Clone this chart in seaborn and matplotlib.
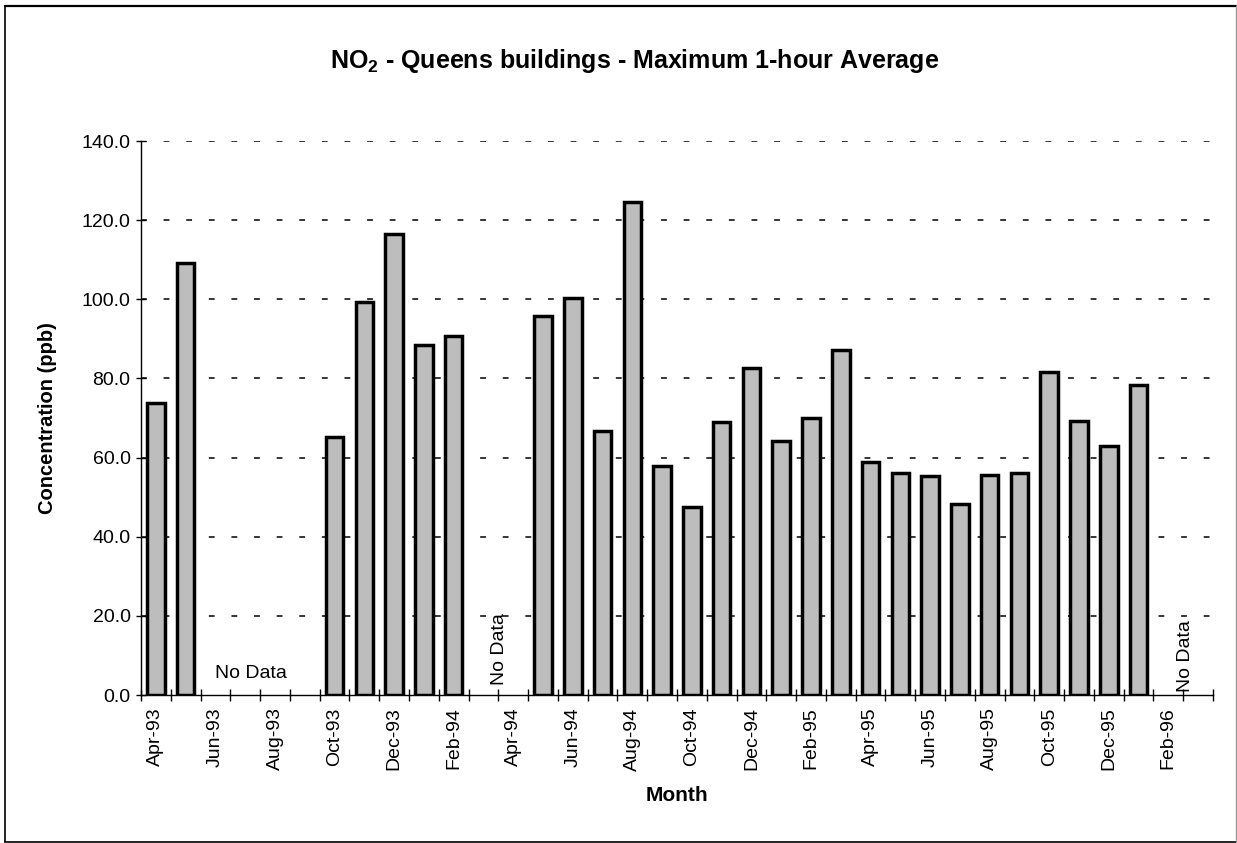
import numpy as np
import pandas as pd
import matplotlib
matplotlib.use("Agg")
import matplotlib.pyplot as plt
from matplotlib.lines import Line2D
import seaborn as sns

months = ["Apr-93", "May-93", "Jun-93", "Jul-93", "Aug-93", "Sep-93", "Oct-93", "Nov-93",
          "Dec-93", "Jan-94", "Feb-94", "Mar-94", "Apr-94", "May-94", "Jun-94", "Jul-94",
          "Aug-94", "Sep-94", "Oct-94", "Nov-94", "Dec-94", "Jan-95", "Feb-95", "Mar-95",
          "Apr-95", "May-95", "Jun-95", "Jul-95", "Aug-95", "Sep-95", "Oct-95", "Nov-95",
          "Dec-95", "Jan-96", "Feb-96", "Mar-96"]
nan = np.nan
values = [73.8, 109.2, nan, nan, nan, nan, 65.2, 99.3,
          116.4, 88.5, 90.8, nan, nan, 95.8, 100.4, 66.6,
          124.5, 57.8, 47.6, 69.0, 82.7, 64.3, 69.9, 87.2,
          58.8, 56.2, 55.4, 48.3, 55.6, 56.0, 81.5, 69.3,
          63.0, 78.3, nan, nan]
tick_labels = months[::2]
no_data_text = "No Data"
title = r"NO$_{2}$ - Queens buildings - Maximum 1-hour Average"
xlabel = "Month"
ylabel = "Concentration (ppb)"

sns.set_theme(style="white")
plt.rcParams['font.family'] = ['Liberation Sans', 'DejaVu Sans']
plt.rcParams['text.color'] = 'black'
plt.rcParams['axes.labelcolor'] = 'black'
plt.rcParams['xtick.color'] = 'black'
plt.rcParams['ytick.color'] = 'black'
plt.rcParams['mathtext.fontset'] = 'custom'
plt.rcParams['mathtext.rm'] = 'Liberation Sans:bold'
plt.rcParams['mathtext.it'] = 'Liberation Sans:bold'
plt.rcParams['mathtext.bf'] = 'Liberation Sans:bold'

df = pd.DataFrame({"Month": months, "Value": values})

fig = plt.figure(figsize=(12.37, 8.43), dpi=100)
ax = fig.add_axes([141 / 1237, 1 - 695 / 843, (1213 - 141) / 1237, (695 - 141) / 843])

sns.barplot(data=df, x="Month", y="Value", order=months, ax=ax,
            color="#bdbdbd", saturation=1, width=0.59,
            edgecolor="black", linewidth=2.5, errorbar=None)

ax.set_xlim(-0.5, len(months) - 0.5)
ax.set_ylim(0, 140)

# gridlines
yt = np.arange(0, 141, 20)
ax.set_yticks(yt)
ax.set_yticklabels([f"{v:.1f}" for v in yt], fontsize=14, color="black")
for v in yt[1:]:
    ax.axhline(v, color="black", lw=1.1, ls=(0, (3.8, 11.0)), zorder=0)

# x ticks: labels every other month, marks at boundaries
ax.set_xticks(np.arange(0, len(months), 2))
ax.set_xticklabels(tick_labels, rotation=90, fontsize=14, color="black")
ax.set_xticks(np.arange(-0.5, len(months), 1), minor=True)
ax.tick_params(axis="x", which="major", length=0, pad=9)
ax.tick_params(axis="x", which="minor", direction="inout", length=8, width=1, color="black", bottom=True)
ax.tick_params(axis="y", which="major", direction="inout", length=7, width=1, color="black", left=True, pad=4)

for s in ["top", "right"]:
    ax.spines[s].set_visible(False)
for s in ["left", "bottom"]:
    ax.spines[s].set_color("black")
    ax.spines[s].set_linewidth(1.0)

ax.set_xlabel(xlabel, fontsize=15, fontweight="bold", labelpad=11, color="black")
ax.set_ylabel(ylabel, fontsize=14.5, fontweight="bold", labelpad=18, color="black")

# No Data annotations
ax.text(3.2, 4.3, no_data_text, fontsize=14, ha="center", va="baseline", color="black")
ax.text(11.55, 2.5, no_data_text, fontsize=14, ha="center", va="bottom", rotation=90, color="black")
ax.text(34.56, 0.8, no_data_text, fontsize=14, ha="center", va="bottom", rotation=90, color="black")

fig.text(0.513, 1 - 61 / 843, title, fontsize=18, fontweight="bold", ha="center", va="center",
         color="black")

# outer frame
x0, x1 = 5 / 1237, 1236 / 1237
y0, y1 = 1 - 841.5 / 843, 1 - 6 / 843
fig.add_artist(Line2D([x0, x1], [y1, y1], transform=fig.transFigure, color="black", lw=1.6))
fig.add_artist(Line2D([x0, x0], [y0, y1], transform=fig.transFigure, color="black", lw=1.2))
fig.add_artist(Line2D([x0, x1], [y0, y0], transform=fig.transFigure, color="black", lw=1.2))
fig.add_artist(Line2D([x1, x1], [y0, y1], transform=fig.transFigure, color="#999999", lw=1.0))

fig.savefig("out.png", dpi=100)
